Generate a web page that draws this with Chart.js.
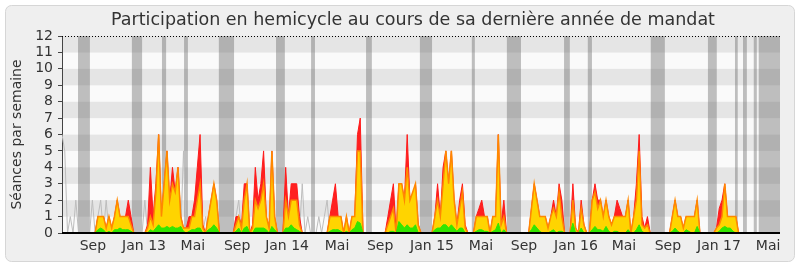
<!DOCTYPE html>
<html>
<head>
<meta charset="utf-8">
<script src="https://cdn.jsdelivr.net/npm/chart.js@4"></script>
<style>
  html, body { margin: 0; padding: 0; background: #fff; }
  #wrap { width: 800px; height: 267px; }
</style>
</head>
<body>
<div id="wrap"><canvas id="chart" width="800" height="267"></canvas></div>
<script>
// weekly values, one per week from June 2012 to June 2017
const red = [
  0,0,0,0,0,0,0,0,0,0,
  0,0,0,1,1,1,0.3,1,0.3,1,
  2,1,1,1,2,1,0,0,0,0,
  0,0.5,4,1,3,6,1,3,5,2,
  4,2.5,4,1,0.3,0.3,1,1,2,4,
  6,0.5,0,1,2,3,2,0,0,0,
  0,0,0,1,1,0.5,3,3,0,0.5,
  4,2,3,5,1,0.3,5,1,0,0,
  0,4,1,3,3,3,1,0,0,0,
  0,0,0,0,0,0,0,1,2,3,
  1,1,0,1,0,1,1,6,7,0,
  0,0,0,0,0,0,0,0,1,2,
  3,0,3,3,2,6,2,2,3,0.5,
  0,0,0,0,0,1,3,1,4,5,
  3,5,2,0.5,2,3,0.5,0,0,0,
  1,1.5,2,1,1,0,1,1,6,0.5,
  2,0,0,0,0,0,0,0,0,0,
  1.5,3,2,1,1,1,0.3,1,2,1,
  3,2,0,0,0,3,0.3,0,2,0.5,
  0,0,2,3,2,2,1,2,1,0.5,
  1,2,1.5,1,1,2,0,1,3,6,
  1,0.3,1,0,0,0,0,0,0,0,
  0,1,2,1,1,0.3,1,1,1,1,
  2,0,0,0,0,0,0,0.3,1.5,2,
  3,1,1,1,1,0,0,0,0,0,
  0,0,0,0,0,0,0,0,0,0,
  0
];
const yellow = [
  0,0,0,0,0,0,0,0,0,0,
  0,0,0,1,1,1,0.3,1,0.3,1,
  2,1,1,1,1,0.5,0,0,0,0,
  0,0.3,1,0.5,2.5,6,1,3,5,2,
  3,2.5,4,1,0.3,0.3,0.3,1,1,2,
  3,0.3,0,1,2,3,2,0,0,0,
  0,0,0,0.5,1,0.3,2,3,0,0.3,
  2,1.5,2,3,1,0.3,5,1,0,0,
  0,2,1,2,2,2,0.5,0,0,0,
  0,0,0,0,0,0,0,1,1,1,
  1,1,0,1,0,1,1,5,5,0,
  0,0,0,0,0,0,0,0,0.5,1,
  1.5,0,3,3,2,4,2,2.5,3,0.5,
  0,0,0,0,0,1,2,1,3,5,
  3,5,2,0.5,1.5,2.5,0.3,0,0,0,
  1,1,1,1,1,0,1,1,6,0.5,
  1,0,0,0,0,0,0,0,0,0,
  1.5,3,2,1,1,1,0.3,1,1.5,1,
  2.5,1,0,0,0,2,0.3,0,1.5,0.5,
  0,0,2,2.5,1.5,2,1,2,1,0.5,
  1,1,1,1,1,2,0,1,2,5,
  0.5,0.3,0.5,0,0,0,0,0,0,0,
  0,1,2,1,1,0.3,1,1,1,1,
  2,0,0,0,0,0,0,0.3,0.5,1,
  3,1,1,1,1,0,0,0,0,0,
  0,0,0,0,0,0,0,0,0,0,
  0
];
const green = [
  0,0,0,0,0,0,0,0,0,0,
  0,0,0,0.2,0.3,0.2,0,0.1,0,0.2,
  0.2,0.3,0.2,0.2,0.2,0.1,0,0,0,0,
  0,0,0.2,0.1,0.3,0.5,0.3,0.3,0.4,0.3,
  0.4,0.3,0.3,0.4,0.1,0,0.1,0.2,0.2,0.3,
  0.3,0,0,0.2,0.3,0.5,0.3,0,0,0,
  0,0,0,0.1,0.3,0,0.3,0.4,0,0,
  0.3,0.3,0.3,0.3,0.2,0,0.4,0.2,0,0,
  0,0.3,0.3,0.5,0.3,0.2,0.1,0,0,0,
  0,0,0,0,0,0,0,0.1,0.2,0.2,
  0.2,0.1,0,0.1,0,0.2,0.3,0.7,0.6,0,
  0,0,0,0,0,0,0,0,0,0.1,
  0.1,0,0.7,0.5,0.3,0.5,0.3,0.3,0.5,0,
  0,0,0,0,0,0.2,0.3,0.3,0.5,0.5,
  0.3,0.5,0.3,0.1,0.3,0.3,0,0,0,0,
  0.1,0.2,0.2,0.1,0.1,0,0.1,0.2,0.6,0,
  0.2,0,0,0,0,0,0,0,0,0,
  0.2,0.5,0.3,0.1,0,0,0,0.1,0.2,0,
  0.1,0.1,0,0,0,0.6,0,0,0.3,0,
  0,0,0.2,0.4,0.2,0.2,0.1,0.4,0.1,0,
  0.1,0.1,0,0,0,0.2,0,0,0.2,0.5,
  0.1,0,0,0,0,0,0,0,0,0,
  0,0.1,0.3,0.1,0,0,0.2,0.1,0,0,
  0.4,0,0,0,0,0,0,0,0.1,0.3,
  0.4,0.3,0.3,0.1,0,0,0,0,0,0,
  0,0,0,0,0,0,0,0,0,0,
  0
];
const gray = [
  6,5,0,1,0,2,0,0,0,0,
  0,2,0,1,2,0,2,0,0,0,
  0,0,0,0,0,0,0,0,0,0,
  2,0,0,0,3,0,0,0,0,0,
  0,0,0,0,5,0,1,0,0,0,
  0,0,1,0,0,0,0,0,0,0,
  0,0,0,1,2,0,0,0,0,0,
  0,0,0,0,0,0,0,0,0,0,
  0,0,0,0,0,0,0,3,0,1,
  0,0,0,1,0,1,2,0,0,0,
  0,0,0,0,0,0,0,0,0,0,
  0,0,0,0,0,0,0,0,0,0,
  0,0,0,0,0,0,0,0,0,0,
  0,0,0,0,0,0,0,0,0,0,
  0,0,0,0,0,0,0,0,0,0,
  0,0,0,0,0,0,0,0,0,0,
  0,0,0,0,0,0,0,0,0,0,
  0,0,0,0,0,0,0,0,0,0,
  0,0,0,0,0,0,0,0,0,0,
  0,0,0,0,0,0,0,0,0,0,
  0,0,0,0,0,0,0,0,0,0,
  0,0,0,0,0,0,0,0,0,0,
  0,0,0,0,0,0,0,0,0,0,
  0,0,0,0,0,0,0,0,0,0,
  0,0,0,0,0,0,0,0,0,0,
  0,0,0,0,0,0,0,0,0,0,
  0
];

// holidays (in weeks)
const vacStart = [5.8, 25.3, 36.2, 44.2, 56.8, 77.5, 90.2, 110.1, 129.6, 148.4, 161.1, 181.8, 190.4, 213.2, 233.9, 243.7, 246.6, 250.5, 252.3];
const vacEnd   = [10.1, 29.0, 37.7, 45.6, 62.3, 80.7, 91.6, 112.2, 134.0, 149.5, 166.2, 183.9, 191.9, 218.3, 237.1, 244.7, 248.0, 251.6, 260];

// month ticks
const tickWeeks = [11.2, 29.7, 47.4, 63.4, 81.5, 99.6, 115.2, 134.0, 151.7, 167.3, 186.1, 203.5, 219.4, 237.9, 255.7];
const tickLabels = ['Sep', 'Jan 13', 'Mai', 'Sep', 'Jan 14', 'Mai', 'Sep', 'Jan 15', 'Mai', 'Sep', 'Jan 16', 'Mai', 'Sep', 'Jan 17', 'Mai'];

const titleText = 'Participation en hemicycle au cours de sa dernière année de mandat';

const weeks = red.map((_, i) => i);

Chart.defaults.font.family = '"DejaVu Sans", Verdana, sans-serif';

const backdrop = {
  id: 'backdrop',
  beforeDraw(chart) {
    const { ctx, chartArea: a, scales: { x, y } } = chart;
    ctx.save();
    ctx.fillStyle = '#fff';
    ctx.fillRect(0, 0, chart.width, chart.height);
    ctx.beginPath();
    ctx.roundRect(5.5, 5.5, 789, 256, 6);
    ctx.fillStyle = '#efefef';
    ctx.fill();
    ctx.strokeStyle = '#d6d6d6';
    ctx.lineWidth = 1;
    ctx.stroke();

    // horizontal stripes
    for (let v = 0; v < 12; v++) {
      const top = y.getPixelForValue(v + 1);
      const bot = y.getPixelForValue(v);
      ctx.fillStyle = v % 2 ? '#e5e5e5' : '#fafafa';
      ctx.fillRect(a.left, top, a.right - a.left, bot - top);
    }

    // holiday bands
    ctx.fillStyle = 'rgba(100,100,100,0.4)';
    vacStart.forEach((s, i) => {
      const l = x.getPixelForValue(s);
      const r = x.getPixelForValue(vacEnd[i]);
      ctx.fillRect(l, a.top, r - l, a.bottom - a.top);
    });

    // title, centred like the original (a little right of the canvas centre)
    ctx.fillStyle = '#333';
    ctx.font = '17.5px "DejaVu Sans", Verdana, sans-serif';
    ctx.textAlign = 'center';
    ctx.textBaseline = 'middle';
    ctx.fillText(titleText, 413, 20);
    ctx.restore();
  },
  afterDatasetsDraw(chart) {
    const { ctx, chartArea: a, scales: { y } } = chart;
    ctx.save();
    ctx.strokeStyle = '#000';
    ctx.lineWidth = 2;
    ctx.beginPath();
    ctx.moveTo(a.left, y.getPixelForValue(0));
    ctx.lineTo(a.right, y.getPixelForValue(0));
    ctx.stroke();

    ctx.lineWidth = 1;
    ctx.setLineDash([1, 2]);
    ctx.beginPath();
    ctx.moveTo(a.left, y.getPixelForValue(12) + 0.5);
    ctx.lineTo(a.right, y.getPixelForValue(12) + 0.5);
    ctx.stroke();
    ctx.restore();
  }
};

new Chart(document.getElementById('chart'), {
  type: 'line',
  data: {
    labels: weeks,
    datasets: [
      { label: 'green', data: green, fill: 'origin', backgroundColor: '#33e600', borderColor: '#33e600', borderWidth: 1, pointRadius: 0, tension: 0 },
      { label: 'yellow', data: yellow, fill: 'origin', backgroundColor: '#ffd400', borderColor: '#ff8800', borderWidth: 1.5, pointRadius: 0, tension: 0 },
      { label: 'red', data: red, fill: 'origin', backgroundColor: '#ff2020', borderColor: '#ff1a1a', borderWidth: 1, pointRadius: 0, tension: 0 },
      { label: 'gray', data: gray, fill: false, borderColor: '#bdbdbd', borderWidth: 1, pointRadius: 0, tension: 0 }
    ]
  },
  options: {
    responsive: false,
    animation: false,
    layout: { padding: { left: 0, right: 20, top: 36, bottom: 0 } },
    plugins: {
      legend: { display: false },
      tooltip: { enabled: false },
      title: { display: false }
    },
    scales: {
      x: {
        type: 'linear',
        min: 0,
        max: 260,
        afterBuildTicks: ax => { ax.ticks = tickWeeks.map(v => ({ value: v })); },
        afterFit: s => { s.height = 34; },
        ticks: {
          autoSkip: false,
          maxRotation: 0,
          color: '#333',
          font: { size: 14 },
          padding: 5,
          callback: (v, i) => tickLabels[i]
        },
        grid: { display: false, drawTicks: false },
        border: { display: false }
      },
      y: {
        min: 0,
        max: 12,
        afterFit: s => { s.width = 62; },
        ticks: { stepSize: 1, autoSkip: false, color: '#333', font: { size: 14 }, padding: 5 },
        grid: { drawOnChartArea: false, tickLength: 4, color: '#444' },
        border: { color: '#444' },
        title: {
          display: true,
          text: 'Séances par semaine',
          color: '#333',
          font: { size: 14 },
          padding: { top: 9, bottom: 0 }
        }
      }
    }
  },
  plugins: [backdrop]
});
</script>
</body>
</html>
